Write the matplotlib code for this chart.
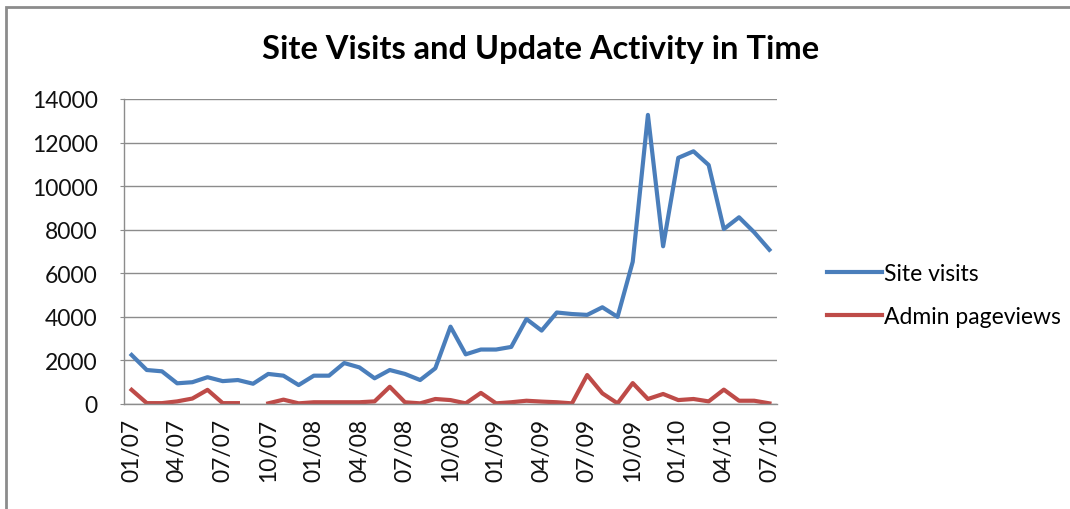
"""
Site visits and admin pageviews per month, 01/07 to 07/10.
Writes out.png.
"""

import numpy as np
import matplotlib
matplotlib.use("Agg")
import matplotlib.pyplot as plt
from matplotlib.patches import Rectangle

# one entry per month, 01/07 .. 07/10
months = [f"{m:02d}/{y:02d}" for y in range(7, 11) for m in range(1, 13)][:43]

site_visits = [
    2250, 1560, 1500, 950, 1000, 1230, 1050, 1100, 930, 1380,
    1300, 870, 1300, 1300, 1880, 1680, 1180, 1560, 1380, 1100,
    1640, 3550, 2280, 2500, 2500, 2620, 3900, 3370, 4200, 4130,
    4090, 4440, 4000, 6530, 13270, 7240, 11300, 11600, 10970, 8030,
    8570, 7880, 7080,
]

admin_pageviews = [
    650, 40, 40, 120, 250, 650, 40, 40, np.nan, 30,
    200, 30, 80, 80, 80, 80, 120, 790, 80, 30,
    230, 180, 30, 510, 30, 80, 150, 110, 80, 30,
    1330, 490, 30, 960, 230, 460, 180, 230, 120, 660,
    150, 150, 30,
]

tick_every = 3

BLUE = "#4A7EBB"
RED = "#BE4B48"
GRID = "#8C8C8C"

plt.rcParams["font.family"] = ["Lato", "DejaVu Sans"]

fig = plt.figure(figsize=(10.7, 5.1), dpi=100)
ax = fig.add_axes([124 / 1070, 105 / 510, 653 / 1070, 305 / 510])

x = np.arange(len(months))
ax.plot(x, site_visits, color=BLUE, lw=3, label="Site visits")
ax.plot(x, admin_pageviews, color=RED, lw=3, label="Admin pageviews")

ax.set_xlim(-0.5, len(months) - 0.5)
ax.set_ylim(0, 14000)
ax.set_yticks(range(0, 14001, 2000))
ax.set_xticks(x[::tick_every])
ax.set_xticklabels(months[::tick_every], rotation=90)

ax.grid(axis="y", color=GRID, lw=1)
ax.set_axisbelow(True)
for side in ("top", "right"):
    ax.spines[side].set_visible(False)
for side in ("left", "bottom"):
    ax.spines[side].set_color(GRID)
    ax.spines[side].set_linewidth(1)

ax.tick_params(axis="y", length=3, color=GRID, pad=16, labelsize=16.5, labelcolor="#111111")
ax.tick_params(axis="x", length=0, pad=10, labelsize=16.5, labelcolor="#111111")

fig.text(541 / 1070, 1 - 50 / 510, "Site Visits and Update Activity in Time",
         ha="center", va="center", fontsize=23.5, fontweight="bold")

fig.legend(loc="center left", bbox_to_anchor=(806 / 1070, 1 - 296 / 510),
           frameon=False, fontsize=16.5, handlelength=2.4, handletextpad=0.1,
           labelspacing=0.95)

# outer chart border (only left and top visible in the crop)
fig.add_artist(Rectangle((6 / 1070, -0.05), 1.2, (510 - 8) / 510 + 0.05,
                         transform=fig.transFigure, fill=False,
                         edgecolor="#8C8C8C", lw=2))

fig.savefig("out.png", dpi=100)
